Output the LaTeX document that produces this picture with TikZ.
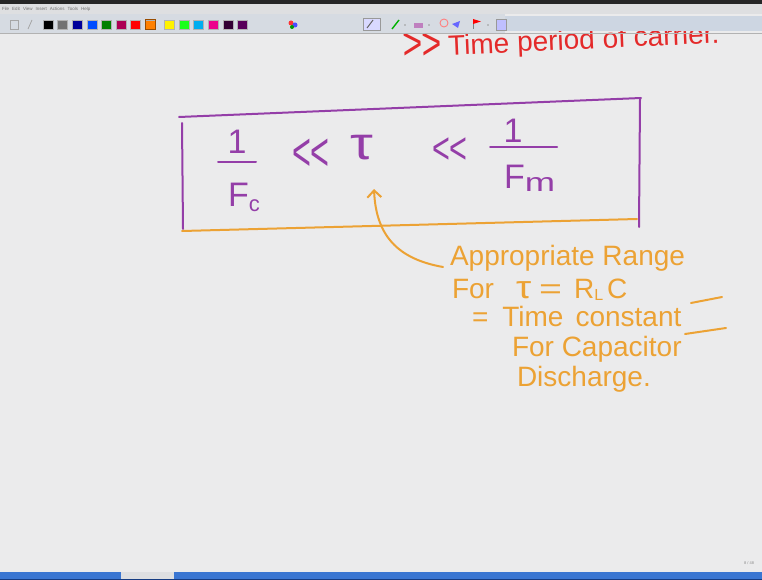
\documentclass[tikz,border=0pt]{standalone}
\usepackage{fontspec}
\setmainfont{Liberation Sans}
\usetikzlibrary{arrows.meta}
\newcommand\fsz[1]{\fontsize{#1}{#1}\selectfont}
\definecolor{board}{RGB}{235,235,236}
\definecolor{menubg}{RGB}{222,223,225}
\definecolor{toolbg}{RGB}{214,219,226}
\definecolor{panelbg}{RGB}{205,214,226}
\definecolor{purpleink}{RGB}{148,62,168}
\definecolor{orangeink}{RGB}{236,162,52}
\definecolor{redink}{RGB}{228,42,42}
\definecolor{taskblue}{RGB}{58,118,210}
\definecolor{taskdark}{RGB}{22,60,130}
\tikzset{
  ink/.style={line width=2pt, line cap=round, line join=round},
  purplepen/.style={ink, draw=purpleink},
  orangepen/.style={ink, draw=orangeink},
  txt/.style={inner sep=0pt, outer sep=0pt},
  purpletxt/.style={txt, text=purpleink},
  orangetxt/.style={txt, text=orangeink, font=\fsz{28}},
  swatch/.style={inner sep=0pt, minimum width=10pt, minimum height=9pt, draw=black!30, line width=0.4pt},
}
\begin{document}
\begin{tikzpicture}[x=1pt,y=-1pt]
\useasboundingbox (0,0) rectangle (762,580);
\fill[board] (0,0) rectangle (762,580);

% heading written just below the toolbar (partly hidden by it)
\node[txt, text=redink, anchor=base west, rotate=2.5] (head) at (403,57)
  {\raisebox{-3pt}{\fsz{34}\scalebox{1}[1.35]{>{}>}}\hspace{6pt}{\fsz{28}Time period of carrier.}};

% window chrome: title strip, menu bar, pen toolbar
\fill[black!85] (0,0) rectangle (762,4);
\fill[menubg] (0,4) rectangle (762,14);
\node[txt, text=black!55, anchor=west, font=\fsz{4.5}] (menu) at (2,9)
  {File\hspace{3pt}Edit\hspace{3pt}View\hspace{3pt}Insert\hspace{3pt}Actions\hspace{3pt}Tools\hspace{3pt}Help};
\fill[toolbg] (0,14) rectangle (505,33);
\fill[panelbg] (505,16) rectangle (762,31);
\draw[black!30, line width=0.5pt] (0,33) -- (762,33);
\draw[black!35, line width=0.8pt] (10,20) rectangle (18,29);
\draw[black!35, line width=0.8pt] (28,29) -- (32,20);
\foreach \c [count=\i from 0] in {black,{black!55},{blue!60!black},{blue!70!cyan},{green!50!black},{purple!90!blue},red,orange,yellow,{green!90!white},cyan,magenta,{violet!40!black},{violet!70!black}}{
  \pgfmathsetmacro\xx{\i<8 ? 48+14.6*\i : 52.5+14.6*\i}
  \node[swatch, fill=\c] (sw\i) at (\xx,24.5) {};
}
\draw[orange!60!black, line width=0.6pt] (sw7.south west) rectangle (sw7.north east);
\fill[red!80] (291,23) circle (2.5pt);
\fill[blue!70] (295,25) circle (2.5pt);
\fill[green!60!black] (292,27) circle (2pt);
% toolbar icons: pen, highlighter, eraser, lasso, pointer, flag, screen
\draw[black!40, fill=white!85!blue, line width=0.6pt] (363,18) rectangle (380,30);
\draw[black!60, line width=1pt] (367,28) -- (373,20);
\draw[green!70!black, line width=1.4pt] (392,29) -- (399,20);
\fill[black!40] (405,25) circle (0.8pt);
\fill[violet!50] (414,23) rectangle (423,28);
\fill[black!40] (429,25) circle (0.8pt);
\draw[red!50, line width=0.9pt] (444,23) circle (4pt);
\fill[blue!60] (452,24) -- (460,21) -- (458,28) -- cycle;
\draw[black!50, line width=0.7pt] (473,29) -- (473,19);
\fill[red] (473,19) -- (481,21.5) -- (473,24) -- cycle;
\fill[black!40] (488,25) circle (0.8pt);
\draw[black!40, fill=blue!25, line width=0.6pt] (496,19) rectangle (506,30);

% boxed inequality
\draw[purplepen] (179,117) -- (641,98);
\draw[purplepen] (182,123) -- (183,229);
\draw[purplepen] (640,99) -- (639,227);
\draw[orangepen] (182,231) -- (637,219);

\node[purpletxt, font=\fsz{34}] (one1) at (237,142) {1};
\coordinate (bar1a) at (218,162);
\coordinate (bar1b) at (256,162);
\draw[purplepen] (bar1a) -- (bar1b);
\node[purpletxt, anchor=base west] (fc) at (228,206)
  {{\fsz{34}F}\raisebox{-5pt}{\fsz{22}c}};

\node[purpletxt, font=\fsz{36}] (ll1) at (311,155) {\scalebox{0.9}[1.5]{<\hspace{-1pt}<}};
\node[purpletxt, font=\fsz{46}] (tau) at (362,148) {\scalebox{1.25}[1]{τ}};
\node[purpletxt, font=\fsz{34}] (ll2) at (450,151) {\scalebox{0.9}[1.3]{<\hspace{-1pt}<}};

\node[purpletxt, font=\fsz{34}] (one2) at (513,131) {1};
\coordinate (bar2a) at (490,147);
\coordinate (bar2b) at (557,147);
\draw[purplepen] (bar2a) -- (bar2b);
\node[purpletxt, anchor=base west] (fm) at (504,189)
  {{\fsz{34}F}\raisebox{-2pt}{\fsz{26}\scalebox{1.4}[1]{m}}};

% note explaining the time constant
\node[orangetxt, anchor=base west] (note1) at (450,265) {Appropriate Range};
\node[orangetxt, anchor=base west] (note2) at (452,298)
  {For\hspace{22pt}{\fsz{32}\scalebox{1.2}[1]{τ}}\hspace{8pt}\scalebox{1.4}[1]{=}\hspace{12pt}R\raisebox{-2pt}{\fsz{16}L}\hspace{4pt}C};
\node[orangetxt, anchor=base west] (note3) at (472,326)
  {=\hspace{14pt}Time\hspace{12pt}constant};
\node[orangetxt, anchor=base west] (note4) at (512,356) {For Capacitor};
\node[orangetxt, anchor=base west] (note5) at (517,386) {Discharge.};

\coordinate (tail3a) at (691,303);
\coordinate (tail3b) at (722,297);
\draw[orangepen] (tail3a) -- (tail3b);
\coordinate (tail4a) at (685,334);
\coordinate (tail4b) at (726,328);
\draw[orangepen] (tail4a) -- (tail4b);

\coordinate (arrowstart) at (443,267);
\coordinate (arrowtip) at (374,189);
\draw[orangepen, -{Straight Barb[length=7pt,width=14pt,line width=2pt]}]
  (arrowstart) .. controls (398,259) and (376,236) .. (arrowtip);

% page counter and task bar
\node[txt, text=black!45, font=\fsz{4}] (page) at (749,563) {8 / 48};
\fill[taskblue] (0,572) rectangle (762,580);
\fill[taskdark] (0,578.5) rectangle (762,580);
\fill[menubg] (121,572) rectangle (174,578.5);
\end{tikzpicture}
\end{document}
